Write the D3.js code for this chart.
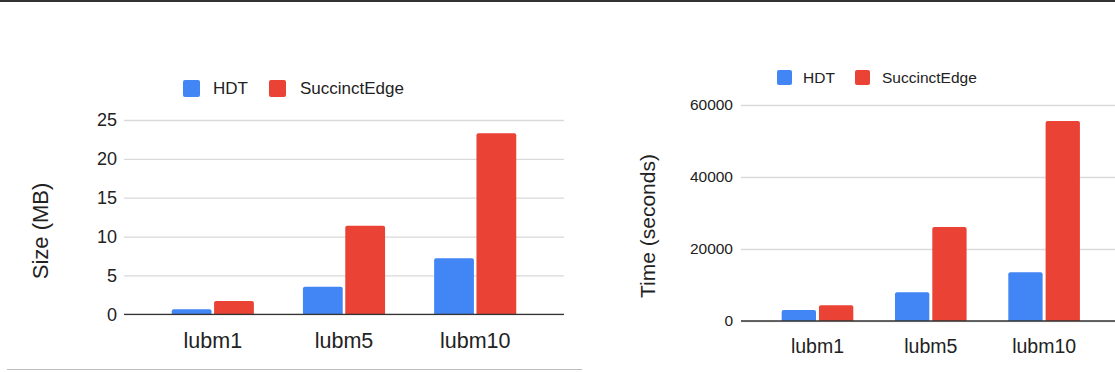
<!DOCTYPE html>
<html>
<head>
<meta charset="utf-8">
<script src="https://cdn.jsdelivr.net/npm/d3@7"></script>
<style>
  html, body { margin: 0; padding: 0; background: #fff; }
  svg { display: block; font-family: Arial, "Liberation Sans", sans-serif; }
</style>
</head>
<body>
<svg id="chart" width="1115" height="372"></svg>
<script>
const categories = ["lubm1", "lubm5", "lubm10"];
const seriesNames = ["HDT", "SuccinctEdge"];
const colors = ["#4285f4", "#ea4335"];

const sizeHDT = [0.64, 3.55, 7.2];
const sizeSuccinctEdge = [1.71, 11.4, 23.3];
const sizeTicks = [0, 5, 10, 15, 20, 25];

const timeHDT = [3050, 7970, 13530];
const timeSuccinctEdge = [4360, 26100, 55560];
const timeTicks = [0, 20000, 40000, 60000];

const svg = d3.select("#chart");

// top border and bottom rule
svg.append("rect").attr("x", 0).attr("y", 0).attr("width", 1115).attr("height", 2).attr("fill", "#333");
svg.append("line").attr("x1", 7).attr("x2", 582).attr("y1", 369.5).attr("y2", 369.5)
  .attr("stroke", "#bdbdbd").attr("stroke-width", 1);

function drawChart(cfg) {
  const g = svg.append("g");
  const y = d3.scaleLinear().domain(cfg.domain).range([cfg.y0, cfg.y1]);
  const x0 = d3.scaleBand().domain(categories).range([cfg.xl, cfg.xr])
    .paddingInner(cfg.pin).paddingOuter(cfg.pout);
  const x1 = d3.scaleBand().domain(seriesNames).range([0, x0.bandwidth()]).paddingInner(cfg.gap);

  // gridlines via axis
  const grid = g.append("g").attr("transform", `translate(${cfg.xl},0)`)
    .call(d3.axisLeft(y).tickValues(cfg.ticks).tickSize(-(cfg.gridEnd - cfg.xl)).tickFormat(""));
  grid.select(".domain").remove();
  grid.selectAll(".tick line").attr("stroke", "#d9d9d9").attr("stroke-width", 1.3);

  // tick labels
  const ax = g.append("g").attr("transform", `translate(${cfg.labelX},0)`)
    .call(d3.axisLeft(y).tickValues(cfg.ticks).tickSize(0).tickPadding(0).tickFormat(d3.format("d")));
  ax.select(".domain").remove();
  ax.selectAll("text").attr("font-size", cfg.tickFont).attr("fill", "#222")
    .attr("font-family", "Arial, 'Liberation Sans', sans-serif");

  // bars
  const data = categories.map((c, i) => ({ c, vals: [cfg.a[i], cfg.b[i]] }));
  const groups = g.append("g").selectAll("g").data(data).join("g")
    .attr("transform", d => `translate(${x0(d.c)},0)`);
  groups.selectAll("path").data(d => d.vals.map((v, j) => ({ v, s: seriesNames[j], j })))
    .join("path")
    .attr("fill", d => colors[d.j])
    .attr("d", d => {
      const bx = x1(d.s), w = x1.bandwidth(), top = y(d.v), bot = y(0);
      const r = Math.min(2, (bot - top) / 2);
      return `M${bx},${bot}V${top + r}Q${bx},${top} ${bx + r},${top}H${bx + w - r}Q${bx + w},${top} ${bx + w},${top + r}V${bot}Z`;
    });

  // baseline
  g.append("line").attr("x1", cfg.xl).attr("x2", cfg.gridEnd)
    .attr("y1", y(0)).attr("y2", y(0)).attr("stroke", "#333").attr("stroke-width", 1.3);

  // x labels
  const xa = g.append("g").attr("transform", `translate(0,${cfg.xLabelY})`)
    .call(d3.axisBottom(x0).tickSize(0).tickPadding(0));
  xa.select(".domain").remove();
  xa.selectAll("text").attr("font-size", cfg.xFont).attr("fill", "#222")
    .attr("font-family", "Arial, 'Liberation Sans', sans-serif").attr("dy", 0);

  // y title
  g.append("text").attr("transform", `translate(${cfg.titleX},${cfg.titleY}) rotate(-90)`)
    .attr("text-anchor", "middle").attr("dominant-baseline", "central")
    .attr("font-size", cfg.titleFont).attr("fill", "#222").text(cfg.title);

  // legend
  const lg = g.append("g");
  seriesNames.forEach((s, i) => {
    lg.append("rect").attr("x", cfg.legX[i]).attr("y", cfg.legY - cfg.legBox / 2)
      .attr("width", cfg.legBox).attr("height", cfg.legBox).attr("rx", 2).attr("fill", colors[i]);
    lg.append("text").attr("x", cfg.legTX[i]).attr("y", cfg.legY).attr("dominant-baseline", "central")
      .attr("font-size", cfg.legFont).attr("fill", "#222").text(s);
  });
}

drawChart({
  domain: [0, 25], y0: 314.3, y1: 120, xl: 124, xr: 564, gridEnd: 564,
  pin: 0.374, pout: 0.364, gap: 0.06, ticks: sizeTicks, a: sizeHDT, b: sizeSuccinctEdge,
  labelX: 117, tickFont: 18, xLabelY: 348, xFont: 21.5,
  title: "Size (MB)", titleX: 40, titleY: 231, titleFont: 22,
  legX: [183, 269], legTX: [213, 300], legY: 88.5, legBox: 17, legFont: 17
});

drawChart({
  domain: [0, 60000], y0: 321, y1: 105, xl: 741, xr: 1120.6, gridEnd: 1115,
  pin: 0.368, pout: 0.359, gap: 0.08, ticks: timeTicks, a: timeHDT, b: timeSuccinctEdge,
  labelX: 733, tickFont: 15.5, xLabelY: 353, xFont: 19.5,
  title: "Time (seconds)", titleX: 647, titleY: 226, titleFont: 21,
  legX: [777, 855], legTX: [803, 882], legY: 77.5, legBox: 15, legFont: 15.5
});
</script>
</body>
</html>
